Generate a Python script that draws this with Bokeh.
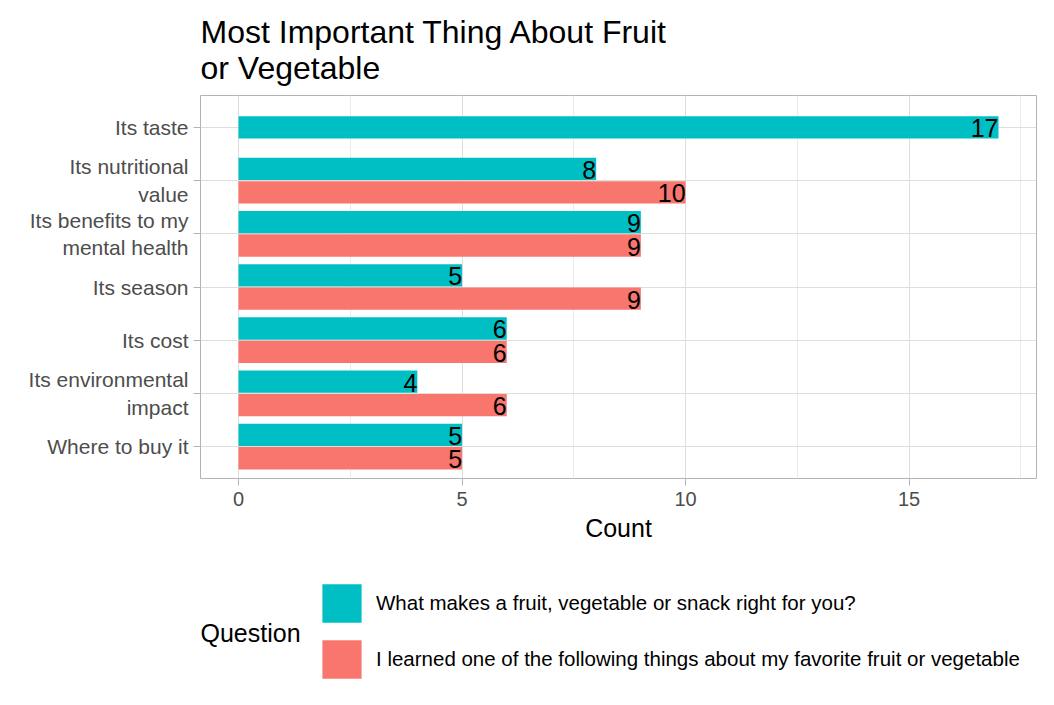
from bokeh.plotting import figure
from bokeh.layouts import column
from bokeh.models import ColumnDataSource, FixedTicker, Legend, LegendItem, Label
from bokeh.core.properties import value
from bokeh.embed import file_html
from bokeh.resources import INLINE

title_text = "Most Important Thing About Fruit\nor Vegetable"
categories = ["Its taste", "Its nutritional\nvalue", "Its benefits to my\nmental health",
              "Its season", "Its cost", "Its environmental\nimpact", "Where to buy it"]
series_names = ["What makes a fruit, vegetable or snack right for you?",
                "I learned one of the following things about my favorite fruit or vegetable"]
what_makes = [17, 8, 9, 5, 6, 4, 5]
learned = [None, 10, 9, 9, 6, 6, 5]
x_ticks = [0, 5, 10, 15]
x_minor = [2.5, 7.5, 12.5, 17.5]
colors = ["#00BFC4", "#F8766D"]
legend_title = "Question"
x_label = "Count"

FONT = "Liberation Sans"
n = len(categories)
off = 0.22
ya, xa, yb, xb = [], [], [], []
for i, (a, b) in enumerate(zip(what_makes, learned)):
    c = n - i
    if b is None:
        ya.append(c); xa.append(a)
    else:
        ya.append(c + off); xa.append(a)
        yb.append(c - off); xb.append(b)

src_a = ColumnDataSource(dict(y=ya, x=xa, label=[str(v) for v in xa]))
src_b = ColumnDataSource(dict(y=yb, x=xb, label=[str(v) for v in xb]))

p = figure(width=1038, height=550, x_range=(-0.85, 17.85), y_range=(0.4, n + 0.6),
           output_backend="svg", toolbar_location=None,
           min_border_left=200, min_border_right=2, min_border_top=95, min_border_bottom=72,
           title=title_text)
p.title.text_font = FONT
p.title.text_font_size = "32px"
p.title.text_font_style = "normal"
p.title.text_color = "black"
p.title.standoff = 20
p.title.offset = 0

p.background_fill_color = "white"
p.border_fill_color = "white"
p.outline_line_color = "#b3b3b3"
p.outline_line_width = 1

ra = p.hbar(y="y", right="x", left=0, height=0.42, source=src_a, fill_color=colors[0], line_color=None)
rb = p.hbar(y="y", right="x", left=0, height=0.42, source=src_b, fill_color=colors[1], line_color=None)
for s in (src_a, src_b):
    p.text(x="x", y="y", text="label", source=s, text_align="right", text_baseline="middle",
           text_font=value(FONT), text_font_size="25px", text_color="black", y_offset=1)

p.xaxis.ticker = FixedTicker(ticks=x_ticks, minor_ticks=x_minor)
p.yaxis.ticker = FixedTicker(ticks=list(range(1, n + 1)))
p.yaxis.major_label_overrides = {n - i: c for i, c in enumerate(categories)}
p.xaxis.axis_label = x_label
for ax in (p.xaxis[0], p.yaxis[0]):
    ax.axis_line_color = None
    ax.major_tick_line_color = "#b3b3b3"
    ax.major_tick_out = 7
    ax.major_tick_in = 0
    ax.minor_tick_line_color = None
    ax.major_label_text_font = FONT
    ax.major_label_text_font_size = "20px"
    ax.major_label_text_color = "#4d4d4d"
    ax.axis_label_text_font = FONT
    ax.axis_label_text_font_size = "25px"
    ax.axis_label_text_font_style = "normal"
    ax.axis_label_text_color = "black"
p.yaxis.major_label_text_font_size = "21px"
p.yaxis.major_label_standoff = 5
p.xaxis.major_label_standoff = 6
p.xaxis.axis_label_standoff = 5

p.xgrid.grid_line_color = "#dedede"
p.xgrid.minor_grid_line_color = "#ebebeb"
p.ygrid.grid_line_color = "#dedede"

# legend panel below (its frame is aligned with the main frame by the column layout)
q = figure(width=1038, height=139, x_range=(0, 1), y_range=(0, 1),
           output_backend="svg", toolbar_location=None,
           min_border_left=0, min_border_right=0, min_border_top=0, min_border_bottom=0)
q.axis.visible = False
q.grid.visible = False
q.outline_line_color = None
q.background_fill_color = "white"
q.border_fill_color = "white"
outside = dict(y=[-10], x=[-10])
la = q.hbar(y="y", right="x", left=-11, height=1, source=ColumnDataSource(outside),
            fill_color=colors[0], line_color=None)
lb = q.hbar(y="y", right="x", left=-11, height=1, source=ColumnDataSource(outside),
            fill_color=colors[1], line_color=None)
legend = Legend(items=[LegendItem(label=series_names[0], renderers=[la]),
                       LegendItem(label=series_names[1], renderers=[lb])],
                location=(117, 6), padding=0, margin=0, spacing=8,
                glyph_width=49, glyph_height=48, label_height=48, label_standoff=10,
                label_text_font=FONT, label_text_font_size="20.5px", label_text_color="black",
                label_text_baseline="middle",
                background_fill_alpha=0, border_line_color=None)
q.add_layout(legend)
q.add_layout(Label(x=0, y=57, x_units="screen", y_units="screen", text=legend_title,
                   text_baseline="middle", text_font=FONT, text_font_size="25px",
                   text_color="black"))

open("out.html", "w").write(file_html(column(p, q, spacing=0), INLINE))
